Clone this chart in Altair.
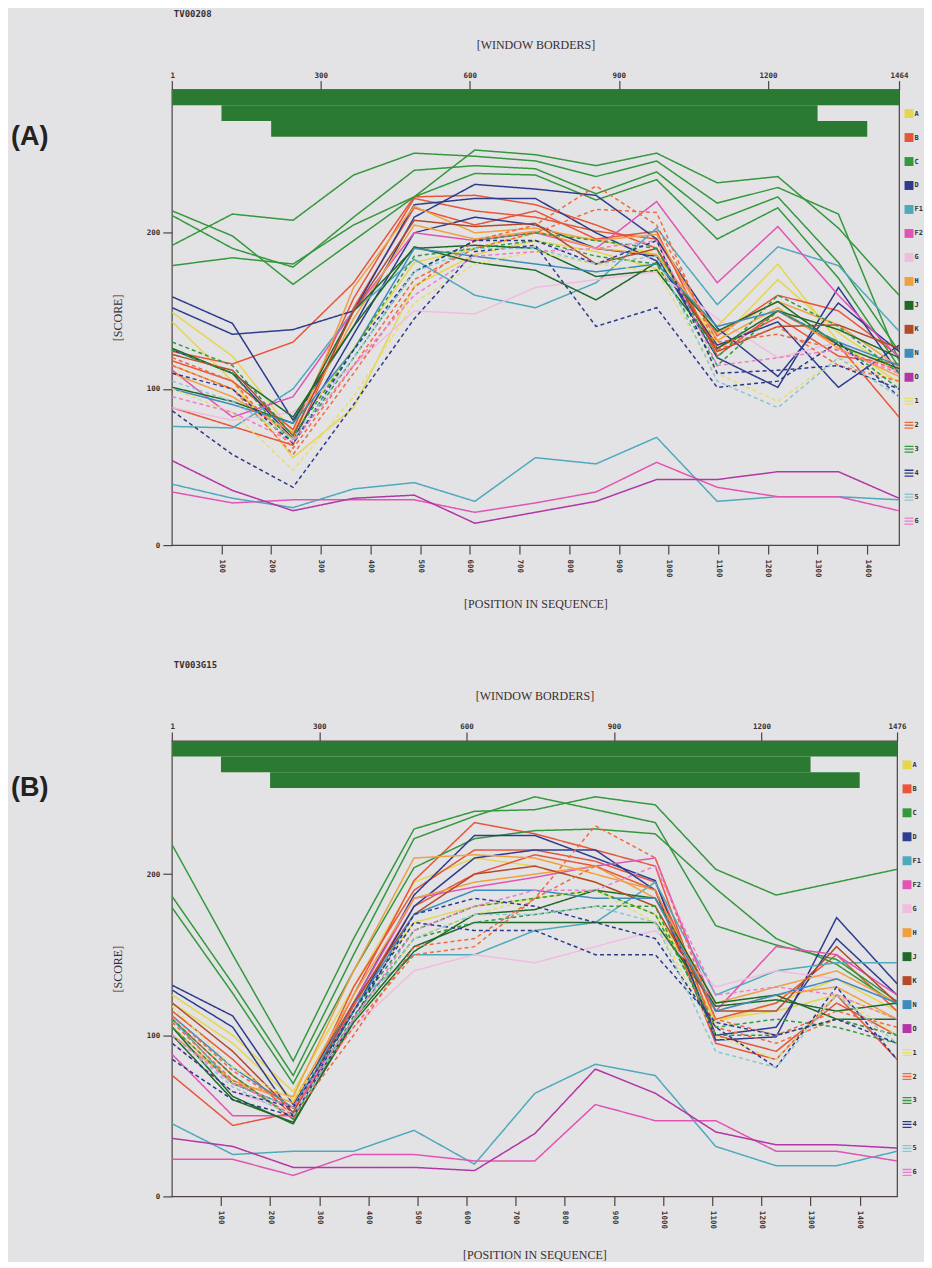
import altair as alt
import pandas as pd

# ---------------- categories / styling lookups ----------------
SERIES = ["A", "B", "C", "D", "F1", "F2", "G", "H", "J", "K", "N", "O",
          "1", "2", "3", "4", "5", "6"]
COLORS = ["#e6d64e", "#e8553a", "#34983c", "#2e3c8e", "#4fa9bd", "#e254b4",
          "#f0bce0", "#f0a040", "#1f6a28", "#b44a2c", "#3e8cbc", "#b236a6",
          "#e8de6a", "#f06a40", "#2f9a3e", "#2c3a8c", "#8cc6cc", "#f07ccc"]
DASHED_SERIES = ["1", "2", "3", "4", "5", "6"]

# ---------------- panel A (TV00208) ----------------
A_POS = [1, 122, 244, 366, 488, 610, 732, 854, 976, 1098, 1220, 1342, 1464]
A_LEN = 1464
A_TOP_TICKS = [1, 300, 600, 900, 1200, 1464]
A_WIN_START = [1, 100, 200]
A_WIN_END = [1464, 1300, 1400]

A_C = [[214, 198, 167, 195, 223, 253, 250, 243, 251, 232, 236, 203, 160],
       [211, 190, 178, 210, 240, 243, 241, 225, 239, 208, 223, 181, 124],
       [192, 212, 208, 237, 251, 249, 246, 236, 246, 219, 229, 212, 118],
       [179, 184, 180, 205, 223, 238, 237, 221, 234, 196, 216, 171, 114]]
A_J = [[126, 110, 82, 140, 191, 181, 176, 157, 181, 137, 156, 128, 113],
       [101, 92, 78, 150, 190, 192, 190, 172, 176, 126, 150, 138, 120]]
A_B = [[124, 116, 130, 168, 223, 224, 218, 205, 190, 126, 146, 121, 116],
       [118, 105, 74, 158, 222, 214, 210, 201, 196, 134, 160, 150, 121],
       [88, 76, 64, 152, 216, 205, 214, 196, 201, 121, 150, 128, 82]]
A_K = [[122, 112, 70, 150, 208, 204, 206, 180, 190, 124, 140, 141, 126]]
A_H = [[115, 100, 68, 165, 217, 200, 203, 195, 199, 131, 152, 126, 108],
       [110, 95, 72, 145, 205, 196, 201, 190, 186, 136, 156, 141, 114]]
A_A = [[143, 105, 56, 88, 166, 186, 195, 188, 177, 140, 180, 130, 104],
       [149, 121, 72, 126, 181, 190, 200, 196, 186, 130, 170, 136, 110]]
A_D = [[159, 142, 80, 140, 210, 231, 228, 224, 196, 139, 108, 155, 124],
       [152, 135, 138, 150, 218, 222, 222, 200, 182, 128, 143, 101, 128],
       [125, 110, 68, 135, 200, 210, 205, 190, 185, 120, 101, 165, 110]]
A_F1 = [[76, 75, 100, 150, 183, 160, 152, 168, 203, 154, 191, 179, 137],
        [39, 30, 24, 36, 40, 28, 56, 52, 69, 28, 31, 31, 29]]
A_F2 = [[112, 82, 95, 150, 200, 195, 200, 190, 220, 168, 204, 160, 120],
        [34, 27, 29, 29, 29, 21, 27, 34, 53, 37, 31, 31, 22]]
A_G = [[88, 80, 85, 115, 150, 148, 165, 170, 175, 145, 120, 130, 110]]
A_N = [[100, 90, 78, 125, 190, 185, 180, 175, 180, 140, 150, 130, 115]]
A_O = [[54, 35, 22, 30, 32, 14, 21, 28, 42, 42, 47, 47, 30]]
A_1 = [[100, 85, 48, 95, 155, 180, 188, 180, 175, 110, 92, 120, 105]]
A_2 = [[115, 100, 58, 110, 165, 195, 205, 230, 205, 130, 135, 125, 112],
       [120, 105, 62, 115, 170, 190, 200, 215, 213, 125, 140, 115, 105]]
A_3 = [[125, 110, 65, 120, 175, 195, 200, 195, 190, 120, 160, 140, 110],
       [130, 115, 70, 125, 185, 190, 195, 185, 180, 115, 150, 130, 100]]
A_4 = [[86, 58, 37, 90, 145, 188, 192, 140, 152, 101, 105, 130, 95],
       [110, 100, 65, 125, 175, 195, 195, 180, 195, 110, 112, 115, 100]]
A_5 = [[105, 92, 68, 120, 175, 190, 190, 180, 185, 105, 88, 120, 95]]
A_6 = [[95, 85, 66, 115, 160, 185, 188, 190, 195, 115, 120, 125, 110]]

# ---------------- panel B (TV003G15) ----------------
B_POS = [1, 124, 247, 370, 493, 616, 739, 862, 984, 1107, 1230, 1353, 1476]
B_LEN = 1476
B_TOP_TICKS = [1, 300, 600, 900, 1200, 1476]
B_WIN_START = [1, 100, 200]
B_WIN_END = [1476, 1300, 1400]

B_C = [[218, 150, 84, 160, 228, 239, 240, 248, 243, 203, 187, 195, 203],
       [186, 132, 75, 150, 222, 236, 248, 240, 232, 168, 156, 147, 121],
       [179, 126, 70, 140, 204, 222, 227, 228, 225, 191, 160, 144, 119]]
B_J = [[105, 62, 45, 110, 155, 170, 170, 170, 170, 118, 122, 115, 120],
       [100, 60, 46, 108, 152, 175, 178, 190, 185, 120, 125, 110, 110]]
B_B = [[75, 44, 52, 125, 196, 232, 225, 215, 205, 100, 90, 120, 100],
       [115, 85, 50, 130, 190, 215, 215, 208, 195, 110, 120, 150, 115],
       [110, 75, 48, 118, 180, 200, 212, 205, 190, 95, 85, 125, 85]]
B_K = [[120, 90, 52, 120, 175, 200, 205, 195, 180, 115, 115, 155, 120]]
B_H = [[105, 70, 62, 140, 210, 212, 210, 200, 190, 115, 125, 130, 110],
       [100, 72, 58, 125, 185, 195, 200, 205, 185, 120, 130, 140, 120]]
B_A = [[125, 100, 65, 130, 195, 210, 205, 195, 180, 108, 120, 135, 115],
       [120, 95, 60, 120, 170, 180, 185, 190, 175, 110, 115, 125, 110]]
B_D = [[131, 112, 57, 120, 187, 224, 224, 210, 196, 97, 99, 173, 132],
       [128, 105, 50, 115, 180, 210, 215, 215, 190, 100, 105, 160, 125]]
B_F1 = [[110, 70, 55, 120, 150, 150, 165, 170, 195, 125, 140, 145, 145],
        [45, 26, 28, 28, 41, 20, 64, 82, 75, 31, 19, 19, 28]]
B_F2 = [[88, 50, 50, 120, 185, 192, 198, 205, 210, 115, 155, 150, 125],
        [23, 23, 13, 26, 26, 22, 22, 57, 47, 47, 28, 28, 22]]
B_G = [[95, 65, 52, 105, 140, 150, 145, 155, 165, 130, 140, 135, 120]]
B_N = [[112, 80, 55, 115, 175, 190, 190, 185, 185, 115, 125, 135, 120]]
B_O = [[36, 31, 18, 18, 18, 16, 39, 79, 64, 40, 32, 32, 30]]
B_1 = [[118, 80, 60, 110, 160, 175, 185, 190, 170, 100, 85, 125, 100]]
B_2 = [[112, 78, 55, 105, 150, 155, 185, 230, 210, 110, 100, 115, 105],
       [108, 72, 50, 100, 155, 160, 185, 205, 190, 105, 95, 110, 100]]
B_3 = [[110, 75, 48, 112, 160, 170, 175, 180, 180, 100, 100, 110, 100],
       [105, 70, 55, 115, 165, 180, 185, 190, 175, 105, 110, 105, 95]]
B_4 = [[85, 60, 50, 110, 175, 185, 180, 170, 160, 105, 80, 130, 85],
       [95, 65, 55, 115, 170, 165, 165, 150, 150, 108, 100, 110, 95]]
B_5 = [[100, 68, 50, 110, 160, 175, 175, 180, 170, 90, 80, 125, 95]]
B_6 = [[100, 70, 55, 110, 165, 180, 190, 190, 205, 125, 130, 125, 110]]

A_LINES = {"A": A_A, "B": A_B, "C": A_C, "D": A_D, "F1": A_F1, "F2": A_F2,
           "G": A_G, "H": A_H, "J": A_J, "K": A_K, "N": A_N, "O": A_O,
           "1": A_1, "2": A_2, "3": A_3, "4": A_4, "5": A_5, "6": A_6}
B_LINES = {"A": B_A, "B": B_B, "C": B_C, "D": B_D, "F1": B_F1, "F2": B_F2,
           "G": B_G, "H": B_H, "J": B_J, "K": B_K, "N": B_N, "O": B_O,
           "1": B_1, "2": B_2, "3": B_3, "4": B_4, "5": B_5, "6": B_6}

# ---------------- style ----------------
BG = "#e3e3e5"
FRAME = "#4d4343"
WIN_GREEN = "#2b7a31"
TXT = "#3a3030"
TICK_FONT = "DejaVu Sans Mono"
TITLE_FONT = "Liberation Serif"
TRIPLE = "M-1,-0.65H1M-1,0H1M-1,0.65H1"
PLOT_H = 456


def line_table(pos, lines):
    rows = []
    for s, group in lines.items():
        for k, vals in enumerate(group):
            for p, v in zip(pos, vals):
                rows.append({"pos": p, "score": v, "series": s,
                             "line": f"{s}-{k}",
                             "dash": "dashed" if s in DASHED_SERIES else "solid"})
    return pd.DataFrame(rows)


def panel(tag, code, pos, length, top_ticks, wstart, wend, lines, ymax, width):
    color = alt.Color("series:N", scale=alt.Scale(domain=SERIES, range=COLORS),
                      legend=None)
    df = line_table(pos, lines)
    ln = alt.Chart(df).mark_line(strokeWidth=1.5).encode(
        x=alt.X("pos:Q", scale=alt.Scale(domain=[0, length], nice=False, zero=False),
                axis=alt.Axis(values=list(range(100, 1500, 100)), labelAngle=90,
                              format="d",
                              title="[POSITION IN SEQUENCE]", titlePadding=21,
                              labelPadding=5, labelFlush=False, grid=False)),
        y=alt.Y("score:Q", scale=alt.Scale(domain=[0, ymax], nice=False),
                axis=alt.Axis(values=[0, 100, 200], title="[SCORE]", format="d",
                              titlePadding=22, labelPadding=3, grid=False)),
        color=color,
        strokeDash=alt.StrokeDash("dash:N",
                                  scale=alt.Scale(domain=["solid", "dashed"],
                                                  range=[[1, 0], [4, 3]]),
                                  legend=None),
        detail="line:N",
    )
    wdf = pd.DataFrame({"start": wstart, "end": wend, "row": list(range(len(wstart)))})
    win = alt.Chart(wdf).mark_rect(color=WIN_GREEN).transform_calculate(
        row2="datum.row + 1"
    ).encode(
        x=alt.X("start:Q", scale=alt.Scale(domain=[0, length], nice=False, zero=False),
                axis=alt.Axis(orient="top", values=top_ticks, title="[WINDOW BORDERS]",
                              format="d",
                              titlePadding=20, labelPadding=1, labelFlush=False,
                              labelAngle=0, grid=False)),
        x2="end:Q",
        y=alt.Y("row:Q", scale=alt.Scale(domain=[0, 29], reverse=True, nice=False),
                axis=None),
        y2="row2:Q",
    )
    ldf = pd.DataFrame({"series": SERIES,
                        "kind": ["dashed" if s in DASHED_SERIES else "solid" for s in SERIES]})
    ly = alt.Y("series:N", scale=alt.Scale(domain=SERIES, padding=1), axis=None)
    leg_sq = alt.Chart(ldf).transform_filter("datum.kind == 'solid'").mark_point(
        shape="square", filled=True, size=80, opacity=1
    ).encode(x=alt.value(width + 10), y=ly, color=color)
    leg_tr = alt.Chart(ldf).transform_filter("datum.kind == 'dashed'").mark_point(
        shape=TRIPLE, filled=False, size=80, opacity=1, strokeWidth=1.3
    ).encode(x=alt.value(width + 10), y=ly, color=color)
    leg_tx = alt.Chart(ldf).mark_text(
        align="left", baseline="middle", font=TICK_FONT, fontSize=7,
        fontWeight="bold", color=TXT
    ).encode(x=alt.value(width + 15.5), y=ly, text="series:N")
    tag_tx = alt.Chart(pd.DataFrame({"t": [tag]})).mark_text(
        align="left", baseline="middle", font="Liberation Sans", fontSize=27,
        fontWeight="bold", color="#222222"
    ).encode(x=alt.value(-161), y=alt.value(47), text="t:N")
    code_tx = alt.Chart(pd.DataFrame({"t": [code]})).mark_text(
        align="left", baseline="middle", font=TICK_FONT, fontSize=9,
        fontWeight="bold", color=TXT
    ).encode(x=alt.value(2), y=alt.value(-76), text="t:N")

    return alt.layer(ln, win, leg_sq, leg_tr, leg_tx, tag_tx, code_tx).resolve_scale(
        x="independent", y="independent"
    ).properties(width=width, height=PLOT_H)


pA = panel("(A)", "TV00208", A_POS, A_LEN, A_TOP_TICKS, A_WIN_START, A_WIN_END,
           A_LINES, 291.7, 728)
pB = panel("(B)", "TV003G15", B_POS, B_LEN, B_TOP_TICKS, B_WIN_START, B_WIN_END,
           B_LINES, 282.7, 726)

chart = alt.vconcat(pA, pB, spacing=50).properties(
    background=BG, padding={"left": 2, "top": 0, "right": 0, "bottom": 0}
).configure_view(
    stroke=FRAME, strokeWidth=1.2, fill=BG
).configure_axis(
    domain=False, tickColor=FRAME, tickSize=9, tickWidth=1.2,
    labelFont=TICK_FONT, labelFontSize=7.5, labelFontWeight="bold", labelColor=TXT,
    titleFont=TITLE_FONT, titleFontSize=12, titleFontWeight="normal", titleColor=TXT,
)

chart.save("out.html", embed_options={"renderer": "svg", "actions": False})
